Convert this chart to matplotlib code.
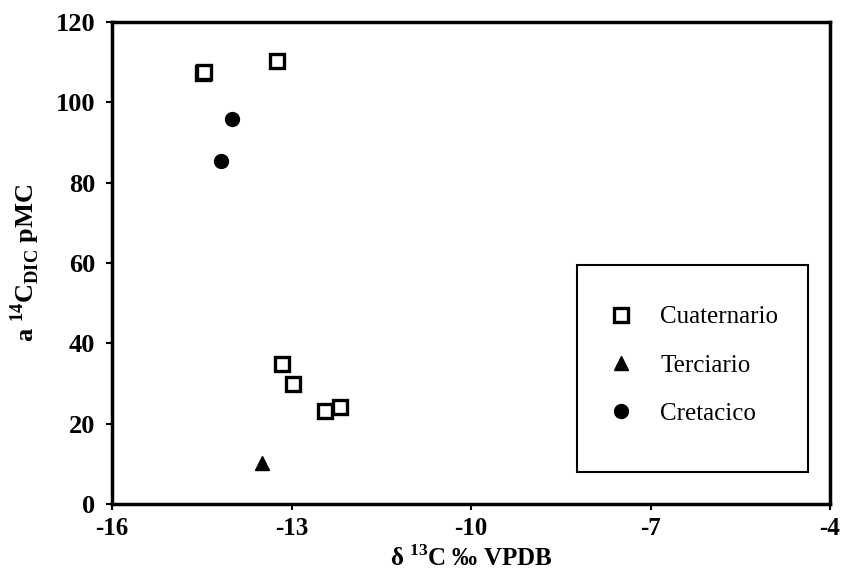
import matplotlib
matplotlib.use("Agg")
from matplotlib import pyplot as plt
from matplotlib.patches import Rectangle

# Data
cuat_x = [-14.48, -14.46, -13.24, -13.16, -12.97, -12.44, -12.19]
cuat_y = [107.3, 107.6, 110.3, 34.9, 29.9, 23.2, 24.2]
terc_x = [-13.49]
terc_y = [10.2]
cret_x = [-13.99, -14.18]
cret_y = [95.8, 85.4]

xticks = [-16, -13, -10, -7, -4]
yticks = [0, 20, 40, 60, 80, 100, 120]

plt.rcParams['font.family'] = ['Liberation Serif', 'DejaVu Serif']
plt.rcParams['mathtext.fontset'] = 'custom'
plt.rcParams['mathtext.rm'] = 'Liberation Serif:bold'
plt.rcParams['mathtext.bf'] = 'Liberation Serif:bold'
plt.rcParams['axes.unicode_minus'] = False

fig = plt.figure(figsize=(8.43, 5.77), dpi=100)
ax = fig.add_axes([0.1329, 0.1265, 0.8517, 0.8354])

ax.plot(cuat_x, cuat_y, linestyle='none', marker='s', ms=10.5, mfc='white',
        mec='black', mew=2.4, label='Cuaternario')
ax.plot(terc_x, terc_y, linestyle='none', marker='^', ms=10, color='black',
        label='Terciario')
ax.plot(cret_x, cret_y, linestyle='none', marker='o', ms=10, color='black',
        label='Cretacico')

ax.set_xlim(-16, -4)
ax.set_ylim(0, 120)
ax.set_xticks(xticks)
ax.set_yticks(yticks)
ax.tick_params(direction='out', length=4, width=1.5, labelsize=18, pad=5)
ax.tick_params(axis='y', labelsize=19, pad=8)
for lab in ax.get_xticklabels() + ax.get_yticklabels():
    lab.set_fontweight('bold')
for sp in ax.spines.values():
    sp.set_linewidth(2.5)

ax.set_xlabel(r'δ $^{13}$C ‰ VPDB', fontsize=18, fontweight='bold', labelpad=4)
ax.set_ylabel(r'a $^{14}$C$_{\mathrm{DIC}}$ pMC', fontsize=19, fontweight='bold', labelpad=10)

# legend box drawn separately so its size matches the reference
ax.add_patch(Rectangle((0.6476, 0.0664), 0.3218, 0.4295, transform=ax.transAxes,
                       fill=False, edgecolor='black', linewidth=1.5, zorder=5))
leg = ax.legend(loc='upper left', bbox_to_anchor=(0.692, 0.411), fontsize=18,
                frameon=False, handlelength=1.0, handletextpad=1.05,
                labelspacing=1.03, borderaxespad=0, borderpad=0)

fig.savefig('out.png', dpi=100)
